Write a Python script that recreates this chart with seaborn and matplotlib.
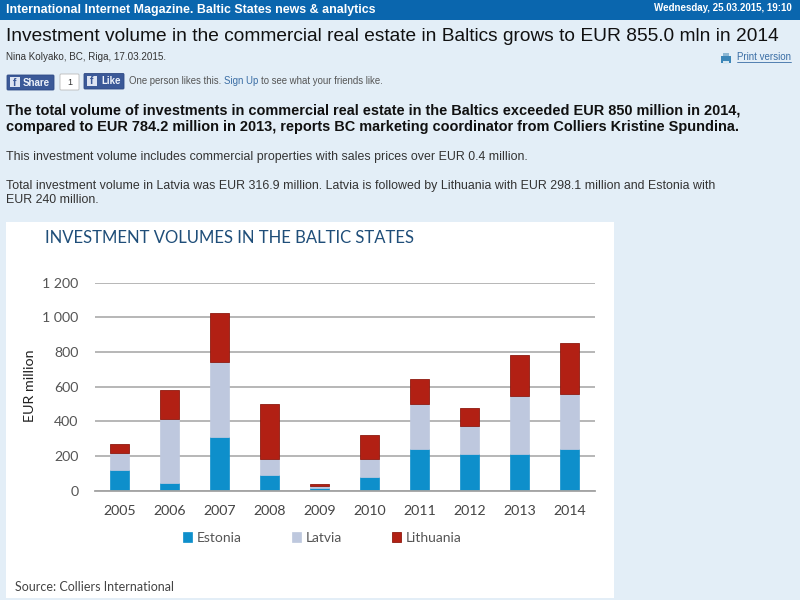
import matplotlib
matplotlib.use("Agg")
import matplotlib.pyplot as plt
import seaborn as sns
from matplotlib.patches import FancyBboxPatch, Rectangle

# values (EUR million per country)
years = ["2005", "2006", "2007", "2008", "2009", "2010", "2011", "2012", "2013", "2014"]
estonia = [119, 42, 311, 90, 13, 77, 238, 213, 213, 240]
latvia = [96, 373, 429, 91, 16, 104, 260, 158, 333, 317]
lithuania = [56, 166, 285, 317, 11, 138, 146, 108, 237, 298]
y_ticks = [0, 200, 400, 600, 800, 1000, 1200]
y_tick_labels = ["0", "200", "400", "600", "800", "1 000", "1 200"]

PAGE_BG = "#E3EEF7"
HEADER_BG = "#0A66AE"
FB_BLUE = "#3B5998"
LINK = "#3A6EA5"
BODY = "Liberation Sans"
CHART = "Lato"

sns.set_theme(style="white")
plt.rcParams["font.family"] = [BODY, "DejaVu Sans"]

fig = plt.figure(figsize=(8, 6), dpi=100, facecolor=PAGE_BG)

# page furniture, drawn in pixel coordinates
page = fig.add_axes([0, 0, 1, 1], zorder=0)
page.set_xlim(0, 800)
page.set_ylim(600, 0)
page.axis("off")


def txt(x, y, s, size, color="#111111", weight="normal", ha="left", family=BODY, **kw):
    return page.text(x, y, s, fontsize=size, color=color, fontweight=weight, ha=ha,
                     va="center", family=family, **kw)


page.add_patch(Rectangle((0, 0), 800, 19.5, color=HEADER_BG, lw=0))
txt(6, 10, "International Internet Magazine. Baltic States news & analytics", 8.9, "white", "bold")
txt(792, 8, "Wednesday, 25.03.2015, 19:10", 7.0, "white", "bold", ha="right")
txt(6.5, 36.5, "Investment volume in the commercial real estate in Baltics grows to EUR 855.0 mln in 2014",
    13.82, "#111111")
txt(6, 57.5, "Nina Kolyako, BC, Riga, 17.03.2015.", 7.1, "#333333")

# print link
page.add_patch(Rectangle((721, 56), 10, 7, color="#3C86B8", lw=0))
page.add_patch(Rectangle((723, 53), 6, 3, color="#8DB7D3", lw=0))
page.add_patch(Rectangle((723, 61), 6, 3, color="#D6E6F0", lw=0))
txt(737, 57, "Print version", 7.0, LINK)
page.plot([737, 791], [62, 62], color=LINK, lw=0.6)

# share / like buttons
page.add_patch(FancyBboxPatch((7, 75), 47, 15, boxstyle="round,pad=0,rounding_size=1", fc=FB_BLUE, ec="#2F4A85", lw=0.6))
page.add_patch(Rectangle((10, 77), 10, 10, color="#DDE4F2", lw=0))
txt(15, 82.5, "f", 7.5, FB_BLUE, "bold", ha="center")
txt(23, 82.5, "Share", 7, "#EEF2FA", "bold")
page.add_patch(FancyBboxPatch((60, 74), 19, 16, boxstyle="round,pad=0,rounding_size=1", fc="white", ec="#BBBBBB", lw=0.6))
txt(70, 82.5, "1", 6.5, "#333333", ha="center")
page.add_patch(FancyBboxPatch((84, 73.5), 40, 15.5, boxstyle="round,pad=0,rounding_size=1", fc=FB_BLUE, ec="#2F4A85", lw=0.6))
page.add_patch(Rectangle((87, 76), 10, 10, color="#DDE4F2", lw=0))
txt(92, 81.5, "f", 7.5, FB_BLUE, "bold", ha="center")
txt(101, 81, "Like", 7, "#EEF2FA", "bold")
txt(129, 81, "One person likes this.", 6.9, "#555555")
txt(224.5, 81, "Sign Up", 6.9, LINK)
txt(261, 81, "to see what your friends like.", 6.9, "#555555")

# article text
txt(6, 110.5, "The total volume of investments in commercial real estate in the Baltics exceeded EUR 850 million in 2014,",
    10.45, "#111111", "bold")
txt(6, 127.5, "compared to EUR 784.2 million in 2013, reports BC marketing coordinator from Colliers Kristine Spundina.",
    10.45, "#111111", "bold")
txt(6, 157, "This investment volume includes commercial properties with sales prices over EUR 0.4 million.", 8.95, "#333333")
txt(6, 185.5, "Total investment volume in Latvia was EUR 316.9 million. Latvia is followed by Lithuania with EUR 298.1 million and Estonia with",
    8.95, "#333333")
txt(6, 200, "EUR 240 million.", 8.95, "#333333")

# white panel behind the chart image
page.add_patch(Rectangle((6, 222), 608, 376, color="white", lw=0))
txt(45, 238, "INVESTMENT VOLUMES IN THE BALTIC STATES", 11.95, "#1F4E79", family=CHART)
txt(15, 587, "Source: Colliers International", 9.0, "#444444", family=CHART)

# stacked bars
ax = fig.add_axes([94.5 / 800, (600 - 490.7) / 600, 500 / 800, 208 / 600], zorder=1)
ax.patch.set_alpha(0)
ax.set_axisbelow(True)

bottom_lat = [e for e in estonia]
bottom_lit = [e + l for e, l in zip(estonia, latvia)]
sns.barplot(x=years, y=estonia, color="#0E8FCB", saturation=1, width=0.38, label="Estonia",
            edgecolor="#0E8FCB", linewidth=0.5, ax=ax)
sns.barplot(x=years, y=latvia, bottom=bottom_lat, color="#BEC8DE", saturation=1, width=0.38, label="Latvia",
            edgecolor="#BEC8DE", linewidth=0.5, ax=ax)
sns.barplot(x=years, y=lithuania, bottom=bottom_lit, color="#B22014", saturation=1, width=0.38, label="Lithuania",
            edgecolor="#8E1A10", linewidth=0.6, ax=ax)

ax.set_xlim(-0.5, 9.5)
ax.set_ylim(0, 1200)
ax.set_yticks(y_ticks, y_tick_labels)
ax.grid(axis="y", color="#A3A3A3", lw=1.1)
ax.grid(axis="x", visible=False)
sns.despine(ax=ax, left=True, top=True, right=True, bottom=False)
ax.spines["bottom"].set_color("#A3A3A3")
ax.spines["bottom"].set_linewidth(1.3)
ax.tick_params(axis="x", length=0, pad=10.5, labelsize=10.2, labelcolor="#444444")
ax.tick_params(axis="y", length=0, pad=11.5, labelsize=10.2, labelcolor="#555555")
for lab in ax.get_xticklabels() + ax.get_yticklabels():
    lab.set_family(CHART)
ax.set_xlabel("")
ax.set_ylabel("EUR million", fontsize=10.3, color="#222222", family=CHART)
ax.yaxis.set_label_coords((37 - 95) / 500, (490.7 - 386) / 208)

leg = ax.legend(loc="upper left", bbox_to_anchor=(183 / 800, (600 - 532) / 600), bbox_transform=fig.transFigure,
                ncols=3, frameon=False, handlelength=0.65, handleheight=0.65, handletextpad=0.36,
                columnspacing=3.6, labelcolor="#555555", prop={"family": CHART, "size": 10},
                borderpad=0, borderaxespad=0)

fig.savefig("out.png", dpi=100, facecolor=PAGE_BG)
